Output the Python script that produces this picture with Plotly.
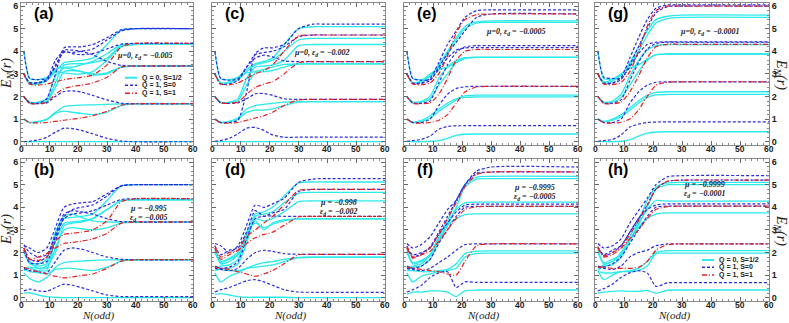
import plotly.graph_objects as go

W, H = 789, 323

# iteration grids (odd N sampled where the flow changes)
N_SLOW = [1, 3, 6, 9, 12, 15, 18, 21, 25, 30, 35, 40, 60]
N_FAST = [1, 3, 6, 9, 12, 15, 18, 21, 25, 30, 60]
X_TICKS = [0, 10, 20, 30, 40, 50, 60]

# panel (a)  mu=0, ed=-0.005
A_CYAN = [
    [0, 0, 0, 0, 0, 0, 0, 0, 0, 0, 0, 0, 0],
    [1.0, 0.85, 0.88, 1.0, 1.3, 1.55, 1.6, 1.62, 1.63, 1.65, 1.67, 1.68, 1.68],
    [1.0, 0.86, 0.9, 0.98, 1.25, 1.35, 1.3, 1.25, 1.2, 1.3, 1.6, 1.68, 1.68],
    [2.0, 1.7, 1.7, 1.75, 2.4, 3.1, 3.15, 3.1, 3.0, 3.05, 3.3, 3.35, 3.35],
    [2.0, 1.75, 1.75, 1.9, 2.9, 3.25, 3.2, 3.1, 2.95, 3.0, 3.3, 3.35, 3.35],
    [3.0, 2.55, 2.55, 2.7, 3.1, 3.5, 3.55, 3.6, 3.7, 4.3, 4.95, 5.0, 5.0],
    [3.0, 2.6, 2.6, 2.8, 3.2, 3.3, 3.3, 3.4, 3.55, 3.9, 4.3, 4.33, 4.33],
    [4.0, 2.8, 2.75, 2.85, 3.1, 3.05, 3.0, 3.0, 3.1, 3.6, 4.2, 4.3, 4.3],
    [2.0, 1.72, 1.72, 1.8, 2.6, 3.4, 3.45, 3.45, 3.5, 3.7, 4.25, 4.33, 4.33],
]
A_BLUE = [
    [0, 0.02, 0.08, 0.2, 0.42, 0.6, 0.58, 0.5, 0.35, 0.15, 0.03, 0, 0],
    [2.0, 1.72, 1.68, 1.72, 2.0, 2.22, 2.25, 2.2, 2.05, 1.85, 1.7, 1.68, 1.68],
    [2.0, 1.72, 1.7, 1.9, 3.0, 4.15, 4.2, 4.2, 4.3, 4.6, 4.95, 5.0, 5.0],
    [4.0, 2.8, 2.75, 2.8, 3.3, 4.05, 4.05, 4.0, 3.85, 3.55, 3.38, 3.35, 3.35],
    [3.0, 2.6, 2.6, 2.7, 3.4, 3.95, 3.95, 4.0, 4.1, 4.5, 4.9, 5.0, 5.0],
    [3.0, 2.62, 2.62, 2.75, 3.6, 4.0, 3.9, 3.85, 3.9, 4.1, 4.32, 4.35, 4.35],
]
A_RED = [
    [1.0, 0.85, 0.83, 0.85, 0.9, 0.95, 1.0, 1.05, 1.15, 1.35, 1.62, 1.68, 1.68],
    [2.0, 1.7, 1.68, 1.75, 2.1, 2.35, 2.45, 2.5, 2.6, 2.85, 3.3, 3.35, 3.35],
    [3.0, 2.55, 2.5, 2.55, 2.65, 2.75, 2.8, 2.85, 2.95, 3.4, 4.2, 4.35, 4.35],
]

# panel (c)  mu=0, ed=-0.002
C_CYAN = [
    [0, 0, 0, 0, 0, 0, 0, 0, 0, 0, 0, 0, 0],
    [1.0, 0.85, 0.9, 1.05, 1.45, 1.6, 1.65, 1.7, 1.75, 1.77, 1.77, 1.77, 1.77],
    [1.0, 0.86, 0.9, 1.0, 1.3, 1.4, 1.4, 1.45, 1.6, 1.75, 1.77, 1.77, 1.77],
    [2.0, 1.72, 1.72, 1.8, 2.5, 3.05, 3.1, 3.15, 3.3, 3.43, 3.44, 3.44, 3.44],
    [2.0, 1.75, 1.75, 1.9, 2.8, 3.3, 3.35, 3.4, 3.6, 4.25, 4.3, 4.3, 4.3],
    [3.0, 2.6, 2.6, 2.75, 3.1, 3.4, 3.5, 3.6, 4.0, 4.5, 4.57, 4.57, 4.57],
    [3.0, 2.6, 2.65, 2.85, 3.2, 3.45, 3.55, 3.7, 4.3, 5.0, 5.09, 5.09, 5.09],
    [4.0, 2.8, 2.75, 2.85, 3.05, 3.1, 3.2, 3.3, 3.42, 3.44, 3.44, 3.44, 3.44],
]
C_BLUE = [
    [0.02, 0.05, 0.15, 0.35, 0.6, 0.63, 0.5, 0.3, 0.2, 0.2, 0.2, 0.2, 0.2],
    [2.0, 1.72, 1.7, 1.72, 1.9, 2.12, 2.13, 2.05, 1.9, 1.87, 1.87, 1.87, 1.87],
    [1.0, 0.85, 0.85, 0.95, 2.2, 3.9, 4.15, 4.15, 4.3, 5.0, 5.2, 5.2, 5.2],
    [4.0, 2.8, 2.72, 2.78, 3.3, 3.7, 3.83, 3.75, 3.58, 3.54, 3.54, 3.54, 3.54],
    [3.0, 2.55, 2.55, 2.7, 3.3, 3.85, 3.95, 4.0, 4.2, 4.65, 4.72, 4.72, 4.72],
]
C_RED = [
    [1.0, 0.83, 0.82, 0.85, 0.95, 1.05, 1.15, 1.3, 1.6, 1.85, 1.87, 1.87, 1.87],
    [2.0, 1.72, 1.7, 1.75, 2.1, 2.4, 2.55, 2.65, 3.0, 3.5, 3.54, 3.54, 3.54],
    [3.0, 2.55, 2.52, 2.6, 2.8, 3.0, 3.15, 3.4, 4.0, 4.68, 4.72, 4.72, 4.72],
]

# panel (e)  mu=0, ed=-0.0005
E_CYAN = [
    [0, 0, 0, 0.02, 0.05, 0.15, 0.28, 0.33, 0.34, 0.34, 0.34],
    [1.0, 0.85, 0.9, 1.05, 1.35, 1.6, 1.85, 1.96, 1.98, 1.98, 1.98],
    [1.0, 0.87, 0.95, 1.15, 1.45, 1.7, 1.9, 2.03, 2.06, 2.06, 2.06],
    [2.0, 1.72, 1.75, 1.9, 2.5, 3.0, 3.5, 3.7, 3.73, 3.73, 3.73],
    [2.0, 1.75, 1.78, 2.0, 2.8, 3.3, 3.6, 3.72, 3.73, 3.73, 3.73],
    [3.0, 2.6, 2.65, 2.9, 3.4, 4.0, 4.6, 5.1, 5.3, 5.35, 5.35],
    [4.0, 2.8, 2.75, 2.9, 3.3, 3.9, 4.5, 5.0, 5.25, 5.28, 5.28],
    [3.0, 2.6, 2.7, 3.0, 3.2, 3.3, 3.5, 3.68, 3.73, 3.73, 3.73],
]
E_BLUE = [
    [0.02, 0.05, 0.1, 0.25, 0.55, 0.68, 0.7, 0.71, 0.71, 0.71, 0.71],
    [1.0, 0.85, 0.85, 1.0, 1.6, 2.1, 2.35, 2.43, 2.45, 2.45, 2.45],
    [2.0, 1.72, 1.7, 1.8, 2.6, 3.4, 3.95, 4.2, 4.25, 4.25, 4.25],
    [4.0, 2.8, 2.72, 2.75, 3.2, 3.7, 4.05, 4.15, 4.16, 4.16, 4.16],
    [3.0, 2.6, 2.6, 2.8, 3.5, 4.3, 4.9, 5.5, 5.8, 5.83, 5.83],
    [3.0, 2.58, 2.58, 2.7, 3.3, 3.9, 4.4, 4.9, 5.5, 5.65, 5.65],
]
E_RED = [
    [1.0, 0.84, 0.82, 0.85, 0.95, 1.2, 1.7, 2.2, 2.42, 2.45, 2.45],
    [2.0, 1.7, 1.68, 1.72, 2.1, 2.8, 3.6, 4.0, 4.08, 4.08, 4.08],
    [3.0, 2.55, 2.52, 2.6, 3.0, 3.8, 4.8, 5.4, 5.62, 5.65, 5.65],
]

# panel (g)  mu=0, ed=-0.0001
G_CYAN = [
    [0, 0, 0, 0.02, 0.08, 0.25, 0.38, 0.43, 0.44, 0.44, 0.44],
    [1.0, 0.88, 0.95, 1.1, 1.4, 1.7, 1.95, 2.07, 2.09, 2.09, 2.09],
    [1.0, 0.9, 1.0, 1.2, 1.5, 1.8, 2.05, 2.18, 2.21, 2.21, 2.21],
    [2.0, 1.72, 1.75, 1.95, 2.5, 3.1, 3.6, 3.85, 3.88, 3.88, 3.88],
    [2.0, 1.75, 1.8, 2.1, 2.9, 3.6, 4.05, 4.25, 4.3, 4.3, 4.3],
    [3.0, 2.6, 2.68, 2.95, 3.5, 4.2, 4.9, 5.4, 5.55, 5.6, 5.6],
    [4.0, 2.8, 2.78, 2.95, 3.4, 4.0, 4.7, 5.25, 5.45, 5.5, 5.5],
    [3.0, 2.65, 2.75, 3.0, 3.25, 3.4, 3.65, 3.85, 3.88, 3.88, 3.88],
]
G_BLUE = [
    [0.02, 0.05, 0.1, 0.3, 0.65, 0.78, 0.85, 0.87, 0.88, 0.88, 0.88],
    [1.0, 0.85, 0.85, 1.0, 1.7, 2.2, 2.5, 2.63, 2.65, 2.65, 2.65],
    [2.0, 1.72, 1.7, 1.85, 2.7, 3.5, 4.1, 4.35, 4.4, 4.4, 4.4],
    [4.0, 2.85, 2.8, 2.8, 3.3, 3.9, 4.3, 4.4, 4.42, 4.42, 4.42],
    [3.0, 2.6, 2.6, 2.85, 3.7, 4.6, 5.4, 5.9, 6.05, 6.05, 6.05],
    [3.0, 2.58, 2.58, 2.75, 3.4, 4.2, 5.0, 5.7, 5.98, 6.0, 6.0],
]
G_RED = [
    [1.0, 0.84, 0.82, 0.86, 1.0, 1.4, 2.0, 2.5, 2.63, 2.65, 2.65],
    [2.0, 1.7, 1.68, 1.75, 2.2, 2.9, 3.7, 4.2, 4.31, 4.31, 4.31],
    [3.0, 2.55, 2.52, 2.62, 3.1, 4.0, 5.1, 5.8, 6.0, 6.0, 6.0],
]

# panel (b)  mu=-0.995, ed=-0.005
B_CYAN = [
    [0.2, 0.22, 0.12, 0.05, 0.02, 0, 0, 0, 0, 0, 0, 0, 0],
    [1.1, 0.85, 0.7, 0.9, 1.35, 1.55, 1.6, 1.62, 1.65, 1.67, 1.68, 1.68, 1.68],
    [1.25, 1.15, 1.1, 1.05, 1.25, 1.3, 1.3, 1.25, 1.2, 1.35, 1.62, 1.68, 1.68],
    [2.1, 1.5, 1.4, 1.5, 2.5, 3.3, 3.35, 3.4, 3.5, 3.9, 4.3, 4.33, 4.33],
    [2.1, 1.6, 1.3, 1.3, 2.2, 3.0, 3.1, 3.05, 3.0, 3.1, 3.3, 3.35, 3.35],
    [1.2, 1.3, 1.2, 1.2, 2.7, 3.5, 3.55, 3.6, 3.7, 4.3, 4.95, 5.0, 5.0],
    [1.3, 1.35, 1.3, 1.4, 2.0, 3.2, 3.3, 3.35, 3.5, 3.9, 4.3, 4.33, 4.33],
    [2.0, 1.55, 1.5, 1.7, 2.9, 3.6, 3.7, 3.55, 3.4, 3.35, 3.35, 3.35, 3.35],
]
B_BLUE = [
    [0.3, 0.38, 0.3, 0.28, 0.45, 0.6, 0.55, 0.45, 0.3, 0.12, 0.05, 0.05, 0.05],
    [1.3, 1.2, 1.15, 1.1, 1.6, 2.1, 2.2, 2.15, 2.0, 1.8, 1.7, 1.68, 1.68],
    [2.3, 2.2, 2.0, 2.2, 3.1, 4.0, 4.15, 4.2, 4.25, 4.6, 4.95, 5.0, 5.0],
    [2.35, 2.0, 1.8, 1.9, 2.8, 3.7, 3.85, 3.8, 3.7, 3.5, 3.37, 3.35, 3.35],
    [2.1, 1.55, 1.5, 1.6, 2.5, 3.6, 3.9, 4.0, 4.1, 4.5, 4.95, 5.0, 5.0],
    [2.2, 1.7, 1.6, 1.8, 2.7, 3.5, 3.7, 3.75, 3.85, 4.1, 4.35, 4.38, 4.38],
]
B_RED = [
    [1.35, 1.25, 1.15, 1.05, 0.95, 0.88, 0.92, 0.98, 1.05, 1.3, 1.62, 1.68, 1.68],
    [2.2, 1.7, 1.8, 1.95, 2.2, 2.4, 2.45, 2.5, 2.6, 2.85, 3.3, 3.35, 3.35],
    [2.2, 1.7, 1.65, 1.8, 2.5, 2.8, 2.85, 2.9, 3.0, 3.4, 4.25, 4.38, 4.38],
]

# panel (d)  mu=-0.998, ed=-0.002
D_CYAN = [
    [0.15, 0.18, 0.12, 0.05, 0.02, 0.02, 0.02, 0.02, 0.02, 0, 0, 0, 0],
    [1.1, 0.7, 0.95, 1.1, 1.3, 1.45, 1.55, 1.6, 1.7, 1.78, 1.79, 1.79, 1.79],
    [1.2, 1.25, 1.2, 1.2, 1.3, 1.35, 1.4, 1.45, 1.6, 1.77, 1.79, 1.79, 1.79],
    [2.2, 1.6, 1.75, 2.0, 2.8, 3.4, 3.0, 3.3, 3.45, 3.49, 3.49, 3.49, 3.49],
    [2.1, 1.5, 1.6, 1.9, 2.6, 3.5, 3.4, 3.5, 3.8, 4.25, 4.28, 4.28, 4.28],
    [1.2, 1.3, 1.3, 1.5, 2.4, 3.6, 3.7, 3.8, 4.2, 4.62, 4.66, 4.66, 4.66],
    [1.3, 1.4, 1.45, 1.7, 2.8, 3.7, 3.8, 4.0, 4.5, 5.08, 5.12, 5.12, 5.12],
    [2.0, 1.55, 1.7, 1.9, 2.9, 3.3, 3.1, 3.25, 3.4, 3.49, 3.49, 3.49, 3.49],
]
D_BLUE = [
    [0.25, 0.35, 0.45, 0.6, 0.75, 0.8, 0.7, 0.55, 0.35, 0.25, 0.24, 0.24, 0.24],
    [1.3, 1.25, 1.2, 1.3, 1.7, 2.0, 2.1, 2.05, 1.95, 1.92, 1.92, 1.92, 1.92],
    [2.4, 2.3, 2.0, 2.3, 3.2, 4.1, 4.0, 4.15, 4.4, 5.1, 5.25, 5.27, 5.27],
    [2.3, 1.9, 2.1, 2.2, 2.9, 3.85, 3.6, 3.75, 3.9, 4.7, 4.79, 4.79, 4.79],
    [1.4, 1.3, 1.35, 1.6, 2.6, 3.5, 3.6, 3.62, 3.6, 3.6, 3.6, 3.6, 3.6],
]
D_RED = [
    [1.35, 1.3, 1.25, 1.15, 1.05, 0.95, 1.05, 1.2, 1.5, 1.9, 1.92, 1.92, 1.92],
    [2.3, 1.8, 2.0, 2.1, 2.4, 2.65, 2.8, 2.9, 3.2, 3.58, 3.6, 3.6, 3.6],
    [2.2, 1.7, 1.9, 2.1, 2.7, 3.0, 3.3, 3.6, 4.1, 4.75, 4.79, 4.79, 4.79],
]

# panel (f)  mu=-0.9995, ed=-0.0005
F_CYAN = [
    [0.15, 0.25, 0.25, 0.3, 0.3, 0.25, 0.05, 0.3, 0.34, 0.34, 0.34],
    [1.1, 0.7, 0.95, 1.05, 1.15, 1.2, 1.3, 1.8, 1.96, 1.97, 1.97],
    [1.2, 1.2, 1.15, 1.15, 1.2, 1.25, 1.5, 1.95, 2.06, 2.07, 2.07],
    [2.1, 1.55, 1.65, 1.9, 2.6, 3.2, 3.5, 3.68, 3.71, 3.71, 3.71],
    [2.0, 1.5, 1.6, 1.85, 2.5, 3.3, 3.9, 4.2, 4.23, 4.23, 4.23],
    [1.2, 1.35, 1.4, 1.7, 2.5, 3.2, 4.0, 4.9, 5.25, 5.27, 5.27],
    [1.3, 1.4, 1.5, 1.9, 2.7, 3.4, 4.3, 5.0, 5.33, 5.37, 5.37],
]
F_BLUE = [
    [0.25, 0.35, 0.55, 0.9, 1.1, 1.15, 0.45, 0.7, 0.68, 0.68, 0.68],
    [1.3, 1.25, 1.2, 1.3, 1.55, 1.8, 2.1, 2.35, 2.38, 2.38, 2.38],
    [2.4, 2.2, 2.35, 2.7, 3.3, 3.9, 4.3, 5.0, 5.6, 5.78, 5.78],
    [2.2, 1.9, 2.0, 2.2, 2.8, 3.3, 3.8, 4.1, 4.14, 4.14, 4.14],
    [1.4, 1.3, 1.4, 1.7, 2.4, 3.0, 3.6, 4.0, 4.04, 4.04, 4.04],
    [2.25, 1.8, 1.95, 2.25, 2.9, 3.6, 4.3, 5.0, 5.5, 5.56, 5.56],
]
F_RED = [
    [1.35, 1.3, 1.25, 1.2, 1.15, 1.05, 1.0, 1.6, 2.3, 2.38, 2.38],
    [2.3, 1.8, 1.9, 2.05, 2.5, 3.0, 3.5, 3.9, 4.02, 4.04, 4.04],
    [2.2, 1.75, 1.9, 2.2, 2.8, 3.5, 4.2, 4.9, 5.45, 5.56, 5.56],
]

# panel (h)  mu=-0.9999, ed=-0.0001
H_CYAN = [
    [0.2, 0.25, 0.28, 0.3, 0.28, 0.28, 0.32, 0.2, 0.33, 0.34, 0.34],
    [1.2, 0.8, 1.0, 1.15, 1.15, 1.2, 1.4, 1.95, 1.97, 1.97, 1.97],
    [1.15, 1.1, 1.1, 1.15, 1.2, 1.3, 1.6, 2.0, 2.08, 2.08, 2.08],
    [2.1, 1.55, 1.7, 1.9, 2.6, 3.1, 3.5, 3.7, 3.75, 3.75, 3.75],
    [2.0, 1.5, 1.6, 1.9, 2.5, 3.3, 3.9, 4.3, 4.27, 4.27, 4.27],
    [1.2, 1.4, 1.45, 1.8, 2.5, 3.2, 4.0, 4.8, 5.0, 5.0, 5.0],
    [1.3, 1.45, 1.6, 2.0, 2.7, 3.4, 4.3, 4.9, 5.08, 5.1, 5.1],
]
H_BLUE = [
    [0.3, 0.4, 0.6, 0.9, 1.1, 1.2, 1.1, 0.5, 0.66, 0.67, 0.67],
    [1.35, 1.3, 1.25, 1.4, 1.8, 2.0, 2.1, 2.3, 2.38, 2.38, 2.38],
    [2.4, 2.2, 2.3, 2.6, 3.3, 3.85, 4.4, 5.0, 5.35, 5.4, 5.4],
    [2.2, 1.9, 2.1, 2.3, 2.9, 3.5, 3.9, 4.1, 4.15, 4.15, 4.15],
    [1.4, 1.35, 1.5, 1.8, 2.4, 3.0, 3.6, 4.0, 4.05, 4.05, 4.05],
    [2.25, 1.85, 2.0, 2.3, 2.9, 3.5, 4.1, 4.8, 5.15, 5.2, 5.2],
]
H_RED = [
    [1.35, 1.35, 1.3, 1.3, 1.3, 1.35, 1.6, 2.1, 2.35, 2.38, 2.38],
    [2.25, 1.85, 2.0, 2.2, 2.6, 3.0, 3.5, 3.9, 4.03, 4.05, 4.05],
    [2.2, 1.8, 1.9, 2.2, 2.8, 3.4, 4.1, 4.8, 5.15, 5.2, 5.2],
]

PANELS = [
    ("(a)", N_SLOW, A_CYAN, A_BLUE, A_RED),
    ("(c)", N_SLOW, C_CYAN, C_BLUE, C_RED),
    ("(e)", N_FAST, E_CYAN, E_BLUE, E_RED),
    ("(g)", N_FAST, G_CYAN, G_BLUE, G_RED),
    ("(b)", N_SLOW, B_CYAN, B_BLUE, B_RED),
    ("(d)", N_SLOW, D_CYAN, D_BLUE, D_RED),
    ("(f)", N_FAST, F_CYAN, F_BLUE, F_RED),
    ("(h)", N_FAST, H_CYAN, H_BLUE, H_RED),
]

LEGEND_NAMES = ["Q = 0, S=1/2", "Q = 1, S=0", "Q = 1, S=1"]

styles = {
    'cyan': dict(color='#2BEAEA', width=1.3, dash='solid'),
    'blue': dict(color='#2B2BE0', width=1.2, dash='3px,2px'),
    'red': dict(color='#E81E1E', width=1.2, dash='5px,2px,1px,2px'),
}

col_px = [(21, 193), (212, 385), (404, 578), (595, 769)]
row_px = [(2.7, 145.1), (158.7, 301.1)]


def px_x(x):
    return x / W


def px_y(y):
    return 1 - y / H


fig = go.Figure()
layout = dict(
    width=W, height=H,
    margin=dict(l=0, r=0, t=0, b=0),
    paper_bgcolor='white', plot_bgcolor='white',
    showlegend=False,
)
annotations = []
shapes = []

tick_font = dict(family='Liberation Sans', size=9, color='#222', weight='bold')
xtick_font = dict(family='Liberation Sans', size=8.5, color='#222', weight='bold')
axis_common = dict(
    showgrid=False, zeroline=False, showline=True, linecolor='#8a8a8a', linewidth=1,
    mirror='ticks', ticks='inside', ticklen=4, tickwidth=1, tickcolor='#666',
    tickfont=tick_font, automargin=False,
)

for i, (label, nn, cyan, blue, red) in enumerate(PANELS):
    k = i + 1
    row, col = divmod(i, 4)
    xa = 'xaxis' if k == 1 else f'xaxis{k}'
    ya = 'yaxis' if k == 1 else f'yaxis{k}'
    xr = 'x' if k == 1 else f'x{k}'
    yr = 'y' if k == 1 else f'y{k}'
    x0, x1 = col_px[col]
    y0, y1 = row_px[row]

    layout[xa] = dict(axis_common, domain=[px_x(x0), px_x(x1)], range=[0, 60],
                      tickvals=X_TICKS, showticklabels=False, anchor=yr,
                      minor=dict(ticks='inside', ticklen=2, dtick=2, tickcolor='#888'))
    layout[ya] = dict(axis_common, domain=[px_y(y1), px_y(y0)], range=[-0.15, 6.15],
                      tick0=0, dtick=1, anchor=xr,
                      showticklabels=(col in (0, 3)),
                      side='right' if col == 3 else 'left',
                      minor=dict(ticks='inside', ticklen=2, dtick=0.2, tickcolor='#888'))

    for kind, curves in (('cyan', cyan), ('blue', blue), ('red', red)):
        for vals in curves:
            fig.add_trace(go.Scatter(
                x=nn, y=vals, mode='lines', xaxis=xr, yaxis=yr,
                line=dict(styles[kind], shape='spline', smoothing=0.6),
                hoverinfo='skip'))

    # x tick labels sit tight under the frame, as in the original
    for t in X_TICKS:
        annotations.append(dict(
            text=str(t), x=t, y=px_y(y1 + 4), xref=xr, yref='paper',
            xanchor='center', yanchor='middle', showarrow=False, font=xtick_font,
            borderpad=0))

    annotations.append(dict(
        text=f"<b>{label}</b>", x=px_x(x0 + 11), y=px_y(y0 + 10.5),
        xref='paper', yref='paper', xanchor='left', yanchor='middle', showarrow=False,
        font=dict(family='Liberation Sans', size=16, color='black')))

    if row == 1:
        annotations.append(dict(
            text="<i>N(odd)</i>", x=px_x((x0 + x1) / 2 - 8), y=px_y(323),
            xref='paper', yref='paper', xanchor='center', yanchor='bottom', showarrow=False,
            borderpad=0, font=dict(family='Liberation Serif', size=11, color='#222')))

# y titles
for yc in (74, 230):
    annotations.append(dict(
        text="<i>E<sub>N</sub>(r)</i>", x=px_x(7), y=px_y(yc), textangle=-90,
        xref='paper', yref='paper', xanchor='center', yanchor='middle', showarrow=False,
        font=dict(family='Liberation Serif', size=14, color='#222')))
    annotations.append(dict(
        text="<i>E<sub>N</sub>(r)</i>", x=px_x(781), y=px_y(yc), textangle=90,
        xref='paper', yref='paper', xanchor='center', yanchor='middle', showarrow=False,
        font=dict(family='Liberation Serif', size=14, color='#222')))

# parameter labels
param_font = dict(family='Liberation Serif', size=8, color='#222')
params = [
    ("μ=0, ε<sub>d</sub> = −0.005", 145, 56, 'center'),
    ("μ=0, ε<sub>d</sub> = −0.002", 322, 53, 'center'),
    ("μ=0, ε<sub>d</sub> = −0.0005", 516, 32, 'center'),
    ("μ=0, ε<sub>d</sub> = −0.0001", 710, 32, 'center'),
    ("μ = −0.995", 128, 208, 'left'),
    ("ε<sub>d</sub> = −0.005", 128, 218, 'left'),
    ("μ = −0.998", 318, 202, 'left'),
    ("ε<sub>d</sub> = −0.002", 318, 212, 'left'),
    ("μ = −0.9995", 512, 187, 'left'),
    ("ε<sub>d</sub> = −0.0005", 512, 197, 'left'),
    ("μ = −0.9999", 682, 184, 'left'),
    ("ε<sub>d</sub> = −0.0001", 682, 194, 'left'),
]
for txt, x, y, anc in params:
    annotations.append(dict(
        text=f"<b><i>{txt}</i></b>", x=px_x(x), y=px_y(y),
        xref='paper', yref='paper', xanchor=anc, yanchor='middle', showarrow=False,
        font=param_font))

# hand-drawn legends in panels (a) and (h)
legend_spots = [(125, [77.7, 85.3, 93.3]), (702, [260, 267.3, 275])]
for lx, rows in legend_spots:
    for name, kind, ly in zip(LEGEND_NAMES, ('cyan', 'blue', 'red'), rows):
        st = styles[kind]
        shapes.append(dict(
            type='line', xref='paper', yref='paper',
            x0=px_x(lx), x1=px_x(lx + 12), y0=px_y(ly), y1=px_y(ly),
            line=dict(color=st['color'], width=2 if kind == 'cyan' else 1.5,
                      dash=st['dash'])))
        annotations.append(dict(
            text=f"<b>{name}</b>", x=px_x(lx + 15), y=px_y(ly),
            xref='paper', yref='paper', xanchor='left', yanchor='middle', showarrow=False,
            font=dict(family='Liberation Sans', size=7, color='#222')))

layout['annotations'] = annotations
layout['shapes'] = shapes
fig.update_layout(**layout)

# drop the browser's default body margin so the figure sits at the page origin
fig.write_html("out.html", config={'displayModeBar': False},
               post_script="document.body.style.margin='0';")
